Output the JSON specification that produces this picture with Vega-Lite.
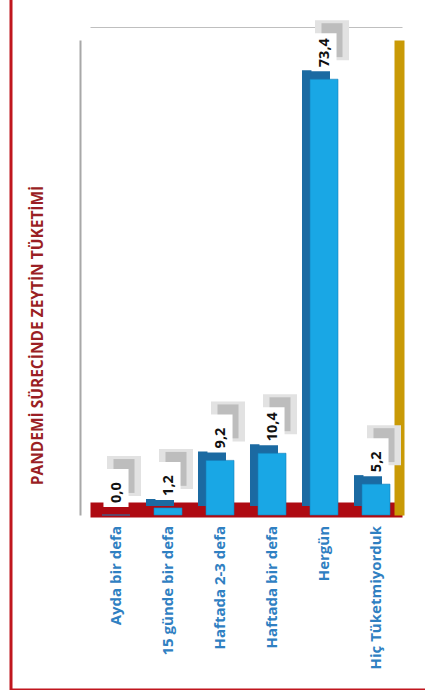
{
  "$schema": "https://vega.github.io/schema/vega-lite/v6.json",
  "width": 419,
  "height": 700,
  "autosize": {"type": "none"},
  "padding": {"left": 11, "top": -10, "right": 0, "bottom": 0},
  "background": "white",
  "config": {
    "view": {"stroke": "#C0161E", "strokeWidth": 3},
    "locale": {"number": {"decimal": ",", "thousands": ".", "grouping": [3], "currency": ["", " TL"]}}
  },
  "data": {
    "values": [
      {"cat": "Ayda bir defa", "v": 0.0},
      {"cat": "15 günde bir defa", "v": 1.2},
      {"cat": "Haftada 2-3 defa", "v": 9.2},
      {"cat": "Haftada bir defa", "v": 10.4},
      {"cat": "Hergün", "v": 73.4},
      {"cat": "Hiç Tüketmiyorduk", "v": 5.2}
    ]
  },
  "encoding": {
    "x": {"field": "cat", "type": "nominal", "sort": null, "axis": null,
          "scale": {"range": [79, 391], "paddingInner": 0.4615, "paddingOuter": 0.2308}},
    "y": {"field": "v", "type": "quantitative", "axis": null,
          "scale": {"domain": [0, 80], "range": [525, 50], "nice": false, "zero": true}}
  },
  "layer": [
    {
      "mark": {"type": "bar", "color": "#1B6AA2", "xOffset": -8, "yOffset": -9},
      "encoding": {
        "x": {"field": "cat", "type": "nominal", "sort": null,
              "scale": {"range": [79, 391], "paddingInner": 0.4615, "paddingOuter": 0.2308},
              "axis": {"orient": "bottom", "offset": -180.5, "domainColor": "#AE0A12", "domainWidth": 15, "domainCap": "butt",
                       "ticks": false, "grid": false, "labelAngle": 270, "labelPadding": 16, "labelColor": "#2F80C2",
                       "labelFont": "Open Sans", "labelFontSize": 15, "labelFontWeight": "bold", "labelLimit": 300, "title": null}},
        "y": {"field": "v", "type": "quantitative",
              "scale": {"domain": [0, 80], "range": [525, 50], "nice": false, "zero": true},
              "axis": {"orient": "left", "offset": -69, "domain": true, "domainColor": "#A8A8A8", "domainWidth": 2, "ticks": false, "labels": false,
                       "grid": false, "title": "PANDEMİ SÜRECİNDE ZEYTİN TÜKETİMİ", "titleX": -43, "titleY": 345, "titleAngle": 270,
                       "titleAlign": "center", "titleBaseline": "middle", "titleColor": "#9A1F24", "titleFont": "Open Sans",
                       "titleFontSize": 15.5, "titleFontWeight": "bold"}}
      }
    },
    {
      "mark": {"type": "bar", "color": "#19A7E5", "stroke": "#1680BA", "strokeWidth": 0.6},
      "encoding": {
        "x": {"field": "cat", "type": "nominal", "sort": null,
              "scale": {"range": [79, 391], "paddingInner": 0.4615, "paddingOuter": 0.2308},
              "axis": {"orient": "top", "offset": -37, "domainColor": "#BFBFBF", "domainWidth": 1, "ticks": false, "labels": false,
                       "grid": false, "title": null}},
        "y": {"field": "v", "type": "quantitative",
              "scale": {"domain": [0, 80], "range": [525, 50], "nice": false, "zero": true},
              "axis": {"orient": "right", "offset": -31, "domainColor": "#C99A06", "domainWidth": 10, "domainCap": "butt",
                       "ticks": false, "labels": false, "grid": false, "title": null}}
      }
    },
    {
      "mark": {"type": "point", "shape": "M-0.85,-1H0.85V1H-0.85Z", "filled": true, "color": "#E2E2E2", "opacity": 1,
               "size": 1600, "xOffset": 8, "yOffset": -39}
    },
    {
      "mark": {"type": "point", "shape": "M-0.62,-1H0.62V1H-0.62Z", "filled": true, "color": "#BDBDBD", "opacity": 1,
               "size": 1150, "xOffset": 8, "yOffset": -39}
    },
    {
      "mark": {"type": "point", "shape": "M-0.66,-1H0.66V1H-0.66Z", "filled": true, "color": "white", "opacity": 1,
               "size": 1444, "yOffset": -27}
    },
    {
      "mark": {"type": "text", "angle": 270, "align": "left", "baseline": "middle", "yOffset": -12, "xOffset": 1,
               "font": "Open Sans", "fontWeight": "bold", "fontSize": 14.5, "color": "#111111"},
      "encoding": {"text": {"field": "v", "type": "quantitative", "format": ".1f"}}
    }
  ],
  "resolve": {"axis": {"x": "independent", "y": "independent"}}
}
